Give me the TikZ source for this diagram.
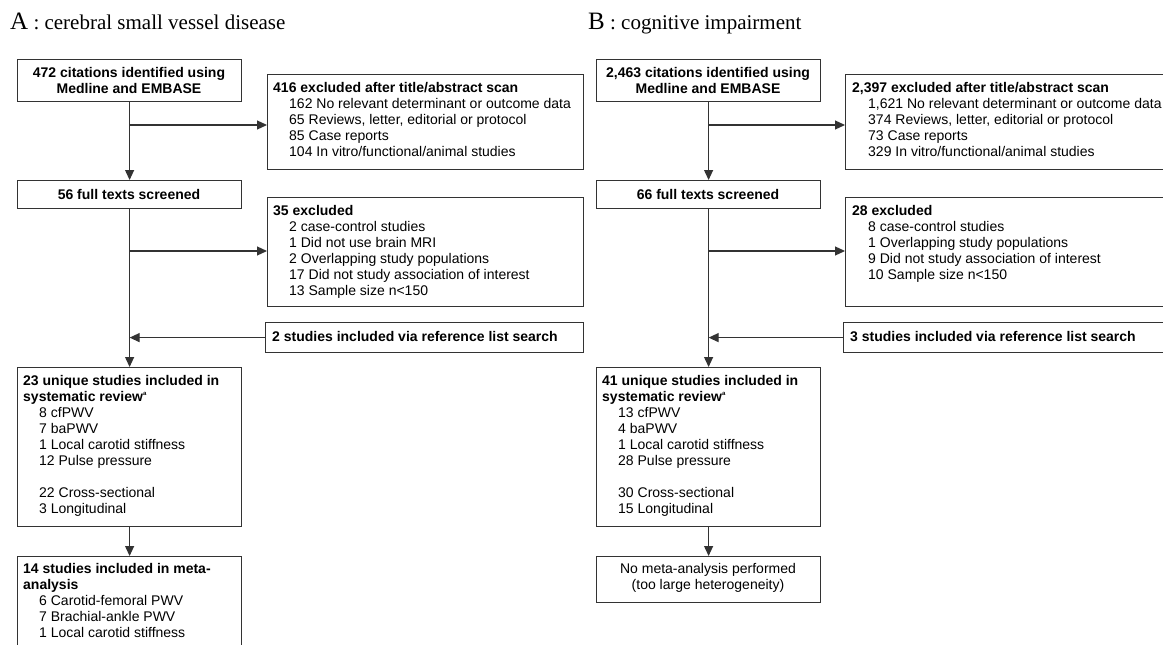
\documentclass[tikz,border=0pt]{standalone}
\usepackage{fontspec}
\setmainfont{Liberation Sans}
\newfontfamily\titlefont{Liberation Serif}
\usetikzlibrary{arrows.meta,calc}
\definecolor{linegray}{HTML}{333333}
\tikzset{
	box/.style={draw=linegray,line width=1.2pt,anchor=north west,inner sep=0pt},
	txt/.style={anchor=north west,inner sep=0pt,align=left,font=\fontsize{14}{16}\selectfont,execute at begin node={\rule{0pt}{11pt}}},
	ctxt/.style={txt,anchor=north,align=center},
	flow/.style={draw=linegray,line width=1.2pt,-{Triangle[length=10pt,width=9pt]}},
	ttl/.style={anchor=base west,inner sep=0pt,font=\titlefont\fontsize{21}{24}\selectfont}
}
\newcommand{\itm}{\hspace*{16pt}}
\newcommand{\supa}{\raisebox{6pt}{\fontsize{6}{6}\selectfont a}}

\begin{document}
\begin{tikzpicture}[x=1pt,y=-1pt]
	\useasboundingbox (0,0) rectangle (1163,645);

	% panel A
	\node (ttlA) at (10,30) [ttl] {{\fontsize{25}{25}\selectfont A} : cerebral small vessel disease};

	\node (citA) at (17,59) [box,minimum width=224pt,minimum height=42pt] {};
	\node (exclA) at (267,74) [box,minimum width=316pt,minimum height=95pt] {};
	\node (fullA) at (17,180) [box,minimum width=224pt,minimum height=28pt] {};
	\node (exclbA) at (267,197) [box,minimum width=316pt,minimum height=109pt] {};
	\node (refA) at (265,322) [box,minimum width=318pt,minimum height=30pt] {};
	\node (revA) at (17,367) [box,minimum width=224pt,minimum height=159pt] {};
	\node (metaA) at (17,556) [box,minimum width=224pt,minimum height=120pt] {};

	\node (citAtxt) at (129,67) [ctxt] {\bfseries 472 citations identified using\\\bfseries Medline and EMBASE};
	\node (exclAtxt) at (273,82) [txt] {\bfseries 416 excluded after title/abstract scan\\
		\itm 162 No relevant determinant or outcome data\\
		\itm 65 Reviews, letter, editorial or protocol\\
		\itm 85 Case reports\\
		\itm 104 In vitro/functional/animal studies};
	\node (fullAtxt) at (129,188) [ctxt] {\bfseries 56 full texts screened};
	\node (exclbAtxt) at (273,205) [txt] {\bfseries 35 excluded\\
		\itm 2 case-control studies\\
		\itm 1 Did not use brain MRI\\
		\itm 2 Overlapping study populations\\
		\itm 17 Did not study association of interest\\
		\itm 13 Sample size n<150};
	\node (refAtxt) at (272,330) [txt] {\bfseries 2 studies included via reference list search};
	\node (revAtxt) at (23,375) [txt] {\bfseries 23 unique studies included in\\
		\bfseries systematic review\supa\\
		\itm 8 cfPWV\\
		\itm 7 baPWV\\
		\itm 1 Local carotid stiffness\\
		\itm 12 Pulse pressure\\[16pt]
		\itm 22 Cross-sectional\\
		\itm 3 Longitudinal};
	\node (metaAtxt) at (23,563) [txt] {\bfseries 14 studies included in meta-\\
		\bfseries analysis\\
		\itm 6 Carotid-femoral PWV\\
		\itm 7 Brachial-ankle PWV\\
		\itm 1 Local carotid stiffness};

	\coordinate (jA1) at (129,125);
	\coordinate (jA2) at (129,251);
	\draw[flow] (citA.south) -- (fullA.north);
	\draw[flow] (jA1) -- (jA1 -| exclA.west);
	\draw[flow] (fullA.south) -- (revA.north);
	\draw[flow] (jA2) -- (jA2 -| exclbA.west);
	\draw[flow] (refA.west) -- (refA.west -| fullA.south);
	\draw[flow] (revA.south) -- (metaA.north);

	% panel B
	\node (ttlB) at (588,30) [ttl] {{\fontsize{25}{25}\selectfont B} : cognitive impairment};

	\node (citB) at (596,59) [box,minimum width=224pt,minimum height=42pt] {};
	\node (exclB) at (845,74) [box,minimum width=330pt,minimum height=95pt] {};
	\node (fullB) at (596,180) [box,minimum width=224pt,minimum height=28pt] {};
	\node (exclbB) at (845,197) [box,minimum width=330pt,minimum height=109pt] {};
	\node (refB) at (843,322) [box,minimum width=332pt,minimum height=30pt] {};
	\node (revB) at (596,367) [box,minimum width=224pt,minimum height=159pt] {};
	\node (nometaB) at (596,556) [box,minimum width=224pt,minimum height=46pt] {};

	\node (citBtxt) at (708,67) [ctxt] {\bfseries 2,463 citations identified using\\\bfseries Medline and EMBASE};
	\node (exclBtxt) at (852,82) [txt] {\bfseries 2,397 excluded after title/abstract scan\\
		\itm 1,621 No relevant determinant or outcome data\\
		\itm 374 Reviews, letter, editorial or protocol\\
		\itm 73 Case reports\\
		\itm 329 In vitro/functional/animal studies};
	\node (fullBtxt) at (708,188) [ctxt] {\bfseries 66 full texts screened};
	\node (exclbBtxt) at (852,205) [txt] {\bfseries 28 excluded\\
		\itm 8 case-control studies\\
		\itm 1 Overlapping study populations\\
		\itm 9 Did not study association of interest\\
		\itm 10 Sample size n<150};
	\node (refBtxt) at (850,330) [txt] {\bfseries 3 studies included via reference list search};
	\node (revBtxt) at (602,375) [txt] {\bfseries 41 unique studies included in\\
		\bfseries systematic review\supa\\
		\itm 13 cfPWV\\
		\itm 4 baPWV\\
		\itm 1 Local carotid stiffness\\
		\itm 28 Pulse pressure\\[16pt]
		\itm 30 Cross-sectional\\
		\itm 15 Longitudinal};
	\node (nometaBtxt) at (708,563) [ctxt] {No meta-analysis performed\\(too large heterogeneity)};

	\coordinate (jB1) at (708,125);
	\coordinate (jB2) at (708,251);
	\draw[flow] (citB.south) -- (fullB.north);
	\draw[flow] (jB1) -- (jB1 -| exclB.west);
	\draw[flow] (fullB.south) -- (revB.north);
	\draw[flow] (jB2) -- (jB2 -| exclbB.west);
	\draw[flow] (refB.west) -- (refB.west -| fullB.south);
	\draw[flow] (revB.south) -- (nometaB.north);
\end{tikzpicture}
\end{document}
